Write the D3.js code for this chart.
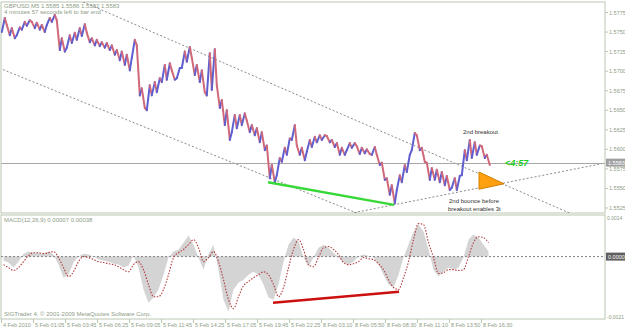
<!DOCTYPE html>
<html>
<head>
<meta charset="utf-8">
<script src="https://cdn.jsdelivr.net/npm/d3@7/dist/d3.min.js"></script>
<style>
  html, body { margin: 0; padding: 0; background: #fff; }
  svg { display: block; font-family: "Liberation Sans", Arial, sans-serif; }
</style>
</head>
<body>
<svg id="chart" width="625" height="329"></svg>
<script>
// GBPUSD M5, one entry per 5 bars (high / low of the group)
var groupSize = 5;
var highs = [1.5768, 1.5759, 1.5755, 1.5756, 1.5763, 1.5765, 1.5763, 1.5762, 1.5759, 1.5768,
    1.5772, 1.5765, 1.5742, 1.5746, 1.5749, 1.5755, 1.5760, 1.5749, 1.5742, 1.5740,
    1.5737, 1.5736, 1.5733, 1.5727, 1.5725, 1.5721, 1.5740, 1.5733, 1.5678, 1.5682,
    1.5686, 1.5691, 1.5708, 1.5710, 1.5701, 1.5704, 1.5725, 1.5731, 1.5717, 1.5708,
    1.5701, 1.5723, 1.5728, 1.5682, 1.5663, 1.5650, 1.5644, 1.5644, 1.5646, 1.5637,
    1.5631, 1.5627, 1.5622, 1.5605, 1.5580, 1.5589, 1.5602, 1.5614, 1.5631, 1.5605,
    1.5602, 1.5612, 1.5616, 1.5618, 1.5618, 1.5617, 1.5612, 1.5608, 1.5602, 1.5608,
    1.5608, 1.5604, 1.5602, 1.5600, 1.5603, 1.5593, 1.5583, 1.5563, 1.5554, 1.5567,
    1.5580, 1.5593, 1.5621, 1.5618, 1.5602, 1.5583, 1.5576, 1.5574, 1.5571, 1.5566,
    1.5563, 1.5566, 1.5599, 1.5612, 1.5609, 1.5605, 1.5604, 1.5593];
var lows = [1.5750, 1.5746, 1.5742, 1.5746, 1.5753, 1.5758, 1.5755, 1.5753, 1.5750, 1.5759,
    1.5763, 1.5727, 1.5725, 1.5730, 1.5736, 1.5740, 1.5745, 1.5737, 1.5733, 1.5732,
    1.5730, 1.5727, 1.5721, 1.5714, 1.5708, 1.5701, 1.5717, 1.5669, 1.5653, 1.5650,
    1.5669, 1.5673, 1.5686, 1.5689, 1.5689, 1.5691, 1.5704, 1.5712, 1.5695, 1.5686,
    1.5673, 1.5669, 1.5676, 1.5653, 1.5631, 1.5612, 1.5622, 1.5627, 1.5631, 1.5622,
    1.5618, 1.5609, 1.5599, 1.5563, 1.5558, 1.5567, 1.5584, 1.5593, 1.5612, 1.5593,
    1.5586, 1.5597, 1.5603, 1.5609, 1.5612, 1.5609, 1.5603, 1.5593, 1.5593, 1.5599,
    1.5602, 1.5594, 1.5595, 1.5594, 1.5593, 1.5580, 1.5561, 1.5542, 1.5531, 1.5548,
    1.5558, 1.5571, 1.5599, 1.5599, 1.5584, 1.5561, 1.5561, 1.5558, 1.5554, 1.5548,
    1.5551, 1.5548, 1.5567, 1.5586, 1.5589, 1.5593, 1.5589, 1.5580];

// MACD(12,26,9): main (histogram) and signal, same grouping
var macdMain = [-0.00013, -0.00020, -0.00037, -0.00017, 0.00010, 0.00017, 0.00013, 0.00013, 0.00010, 0.00017,
    0.00007, -0.00027, -0.00071, -0.00061, -0.00020, 0.00000, 0.00010, 0.00007, 0.00000, -0.00010,
    -0.00013, -0.00017, -0.00024, -0.00027, -0.00037, -0.00030, 0.00003, -0.00037, -0.00111, -0.00155,
    -0.00138, -0.00111, -0.00061, -0.00003, 0.00017, 0.00024, 0.00047, 0.00071, 0.00040, -0.00003,
    -0.00044, 0.00007, 0.00040, -0.00044, -0.00145, -0.00185, -0.00111, -0.00088, -0.00078, -0.00061,
    -0.00051, -0.00061, -0.00094, -0.00138, -0.00145, -0.00094, -0.00017, 0.00040, 0.00064, 0.00051,
    -0.00003, -0.00034, -0.00003, 0.00030, 0.00040, 0.00030, 0.00013, -0.00003, -0.00020, -0.00027,
    -0.00017, 0.00000, 0.00007, 0.00003, -0.00003, -0.00027, -0.00061, -0.00094, -0.00104, -0.00061,
    -0.00003, 0.00040, 0.00084, 0.00108, 0.00084, 0.00024, -0.00044, -0.00067, -0.00051, -0.00037,
    -0.00044, -0.00037, -0.00003, 0.00057, 0.00074, 0.00064, 0.00040, 0.00017];
var macdSignal = [-0.00027, -0.00037, -0.00047, -0.00037, -0.00017, 0.00003, 0.00013, 0.00013, 0.00010, 0.00013,
    0.00017, -0.00003, -0.00037, -0.00067, -0.00051, -0.00017, 0.00000, -0.00003, -0.00010, -0.00017,
    -0.00020, -0.00024, -0.00027, -0.00034, -0.00044, -0.00051, -0.00027, -0.00017, -0.00044, -0.00094,
    -0.00135, -0.00135, -0.00111, -0.00061, -0.00003, 0.00013, 0.00024, 0.00040, 0.00057, 0.00030,
    -0.00017, -0.00003, 0.00017, -0.00017, -0.00078, -0.00145, -0.00175, -0.00135, -0.00098, -0.00084,
    -0.00071, -0.00061, -0.00051, -0.00061, -0.00094, -0.00135, -0.00104, -0.00037, 0.00024, 0.00057,
    0.00024, -0.00027, -0.00034, -0.00003, 0.00030, 0.00034, 0.00024, 0.00007, -0.00020, -0.00027,
    -0.00024, -0.00017, -0.00003, -0.00007, -0.00010, -0.00024, -0.00044, -0.00078, -0.00104, -0.00111,
    -0.00071, -0.00017, 0.00057, 0.00111, 0.00108, 0.00047, -0.00003, -0.00057, -0.00054, -0.00044,
    -0.00044, -0.00047, -0.00044, 0.00000, 0.00047, 0.00067, 0.00064, 0.00047];

var priceTicks = [1.5525, 1.5550, 1.5575, 1.5600, 1.5625, 1.5650, 1.5675, 1.5700, 1.5725, 1.5750, 1.5775];
var timeTickBars = [0, 32, 64, 96, 128, 160, 192, 224, 256, 288, 320, 352, 384, 416, 448, 480];
var timeTickLabels = ["4 Feb 2010", "5 Feb 01:05", "5 Feb 03:45", "5 Feb 06:25", "5 Feb 09:05", "5 Feb 11:45",
    "5 Feb 14:25", "5 Feb 17:05", "5 Feb 19:45", "5 Feb 22:25", "8 Feb 03:10", "8 Feb 05:50",
    "8 Feb 08:30", "8 Feb 11:10", "8 Feb 13:50", "8 Feb 16:30"];
var lastPrice = 1.5583;

// hand drawn objects, [bar, price]
var upperChannel = [[83, 1.5788], [503, 1.5555]];
var lowerChannel = [[0, 1.5703], [353, 1.5520]];
var risingLine = [[353, 1.5519], [606, 1.5583]];
var supportLine = [[267, 1.5558], [393, 1.5529]];
var triangle = [[478, 1.5571], [478, 1.5549], [503, 1.5556]];
var macdDivergence = [[272, -0.00155], [398, -0.00118]];

var svg = d3.select("#chart");
var left = 1, right = 605,
    pTop = 2, pBottom = 213,
    mTop = 215, mBottom = 319;
var frame = "#b9c6b1", textCol = "#8d9c86";

var x = d3.scaleLinear().domain([0, 604]).range([left, right]);
var y = d3.scaleLinear().domain([1.5525, 1.5775]).range([208, 12.5]);
var ym = d3.scaleLinear().domain([-0.0021, 0.0014]).range([mBottom, mTop]);

var defs = svg.append("defs");
defs.append("clipPath").attr("id", "clipP").append("rect")
    .attr("x", left).attr("y", pTop).attr("width", right - left).attr("height", pBottom - pTop);
defs.append("clipPath").attr("id", "clipM").append("rect")
    .attr("x", left).attr("y", mTop).attr("width", right - left).attr("height", mBottom - mTop);

// frames
svg.append("rect").attr("x", left).attr("y", pTop).attr("width", right - left).attr("height", pBottom - pTop)
    .attr("fill", "none").attr("stroke", frame);
svg.append("rect").attr("x", left).attr("y", mTop).attr("width", right - left).attr("height", mBottom - mTop)
    .attr("fill", "none").attr("stroke", frame);

var price = svg.append("g").attr("clip-path", "url(#clipP)");

// extend a two point line over the whole panel
function extend(pts) {
    var k = (pts[1][1] - pts[0][1]) / (pts[1][0] - pts[0][0]);
    return [[-50, pts[0][1] + k * (-50 - pts[0][0])], [700, pts[0][1] + k * (700 - pts[0][0])]];
}
var pline = d3.line().x(function(d) { return x(d[0]); }).y(function(d) { return y(d[1]); });

[upperChannel, lowerChannel].forEach(function(l) {
    price.append("path").attr("d", pline(extend(l)))
        .attr("fill", "none").attr("stroke", "#8a8a8a").attr("stroke-dasharray", "2,2");
});
price.append("path").attr("d", pline([risingLine[0], risingLine[1]]))
    .attr("fill", "none").attr("stroke", "#8a8a8a").attr("stroke-dasharray", "2,2");

// current price line
price.append("line").attr("x1", left).attr("x2", right)
    .attr("y1", Math.round(y(lastPrice)) + 0.5).attr("y2", Math.round(y(lastPrice)) + 0.5)
    .attr("stroke", "#a8a8a8");

// bars: each group drawn as a zigzag low->high (up) or high->low (down)
var pts = [];
highs.forEach(function(h, i) {
    var mid = (h + lows[i]) / 2;
    var prev = i > 0 ? (highs[i - 1] + lows[i - 1]) / 2 : mid;
    var up = mid >= prev;
    pts.push({ b: i * groupSize + 0.8, p: up ? lows[i] : h, up: up });
    pts.push({ b: i * groupSize + 3.8, p: up ? h : lows[i], up: up });
});
var segs = d3.pairs(pts);
price.selectAll("line.bar").data(segs).enter().append("line")
    .attr("class", "bar")
    .attr("x1", function(d) { return x(d[0].b); })
    .attr("y1", function(d) { return y(d[0].p); })
    .attr("x2", function(d) { return x(d[1].b); })
    .attr("y2", function(d) { return y(d[1].p); })
    .attr("stroke", function(d) { return d[1].p >= d[0].p ? "#5f5fd0" : "#d0687a"; })
    .attr("stroke-width", 2)
    .attr("stroke-linecap", "round");

price.append("path").attr("d", pline(supportLine))
    .attr("fill", "none").attr("stroke", "#38d838").attr("stroke-width", 2.5);

price.append("path").attr("d", pline(triangle) + "Z")
    .attr("fill", "#ffa010").attr("stroke", "#d08000").attr("stroke-width", 1);

price.append("text").attr("x", x(462)).attr("y", y(1.5620))
    .attr("font-size", 6).attr("fill", "#333").text("2nd breakout");
price.append("text").attr("x", x(448)).attr("y", y(1.5532))
    .attr("font-size", 6).attr("fill", "#333").text("2nd bounce before");
price.append("text").attr("x", x(447)).attr("y", y(1.5521))
    .attr("font-size", 6).attr("fill", "#333").text("breakout enables 3t");
price.append("text").attr("x", x(504)).attr("y", y(lastPrice) + 3.5)
    .attr("font-size", 9).attr("font-weight", "bold").attr("font-style", "italic")
    .attr("fill", "#22cc22").text("<4:57");

svg.append("text").attr("x", 4).attr("y", 8).attr("font-size", 6).attr("fill", textCol)
    .text("GBPUSD,M5  1.5585 1.5586 1.5582 1.5583");
svg.append("text").attr("x", 4).attr("y", 14).attr("font-size", 6).attr("fill", textCol)
    .text("4 minutes 57 seconds left to bar end");

// price axis
var pAxis = svg.append("g");
priceTicks.forEach(function(t) {
    pAxis.append("line").attr("x1", right).attr("x2", right + 3)
        .attr("y1", y(t)).attr("y2", y(t)).attr("stroke", frame);
    pAxis.append("text").attr("x", right + 4).attr("y", y(t) + 2).attr("font-size", 5.5)
        .attr("fill", textCol).text(d3.format(".4f")(t));
});
pAxis.append("rect").attr("x", right + 1).attr("y", y(lastPrice) - 4).attr("width", 19).attr("height", 8)
    .attr("fill", "#a0a0a0");
pAxis.append("text").attr("x", right + 3).attr("y", y(lastPrice) + 2).attr("font-size", 5.5)
    .attr("fill", "#fff").text(d3.format(".4f")(lastPrice));

// MACD panel
var macd = svg.append("g").attr("clip-path", "url(#clipM)");
var mx = function(d, i) { return x(i * groupSize + 2.5); };

macd.append("path").datum(macdMain)
    .attr("d", d3.area().x(mx).y0(ym(0)).y1(function(d) { return ym(d); }))
    .attr("fill", "#d4d4d4");
macd.append("line").attr("x1", left).attr("x2", right).attr("y1", ym(0)).attr("y2", ym(0))
    .attr("stroke", "#808080").attr("stroke-dasharray", "2,2");
macd.append("path").datum(macdSignal)
    .attr("d", d3.line().x(mx).y(function(d) { return ym(d); }).curve(d3.curveMonotoneX))
    .attr("fill", "none").attr("stroke", "#b23a3a").attr("stroke-width", 1.1).attr("stroke-dasharray", "1.5,1.5");
macd.append("path").datum(macdDivergence)
    .attr("d", d3.line().x(function(d) { return x(d[0]); }).y(function(d) { return ym(d[1]); }))
    .attr("stroke", "#cc1010").attr("stroke-width", 2.5);

svg.append("text").attr("x", 4).attr("y", 222).attr("font-size", 6).attr("fill", textCol)
    .text("MACD(12,26,9) 0.00007 0.00038");
svg.append("text").attr("x", 4).attr("y", 316).attr("font-size", 6).attr("fill", textCol)
    .text("SIGTrader 4, \u00a9 2001-2009 MetaQuotes Software Corp.");

var mAxis = svg.append("g");
[[0.0014, "0.0014"], [-0.0021, "-0.0021"]].forEach(function(t) {
    mAxis.append("text").attr("x", right + 2).attr("y", ym(t[0]) + (t[0] > 0 ? 5 : 0)).attr("font-size", 5)
        .attr("fill", textCol).text(t[1]);
});
mAxis.append("rect").attr("x", right + 1).attr("y", ym(0) - 4).attr("width", 20).attr("height", 8)
    .attr("fill", "#606060");
mAxis.append("text").attr("x", right + 3).attr("y", ym(0) + 2).attr("font-size", 5.5)
    .attr("fill", "#fff").text("0.0000");

// time axis
var tAxis = svg.append("g");
timeTickBars.forEach(function(b, i) {
    tAxis.append("line").attr("x1", x(b) + 0.5).attr("x2", x(b) + 0.5).attr("y1", mBottom).attr("y2", mBottom + 4)
        .attr("stroke", frame);
    tAxis.append("text").attr("x", x(b) + 2).attr("y", 327).attr("font-size", 5.5)
        .attr("fill", textCol).text(timeTickLabels[i]);
});
</script>
</body>
</html>
